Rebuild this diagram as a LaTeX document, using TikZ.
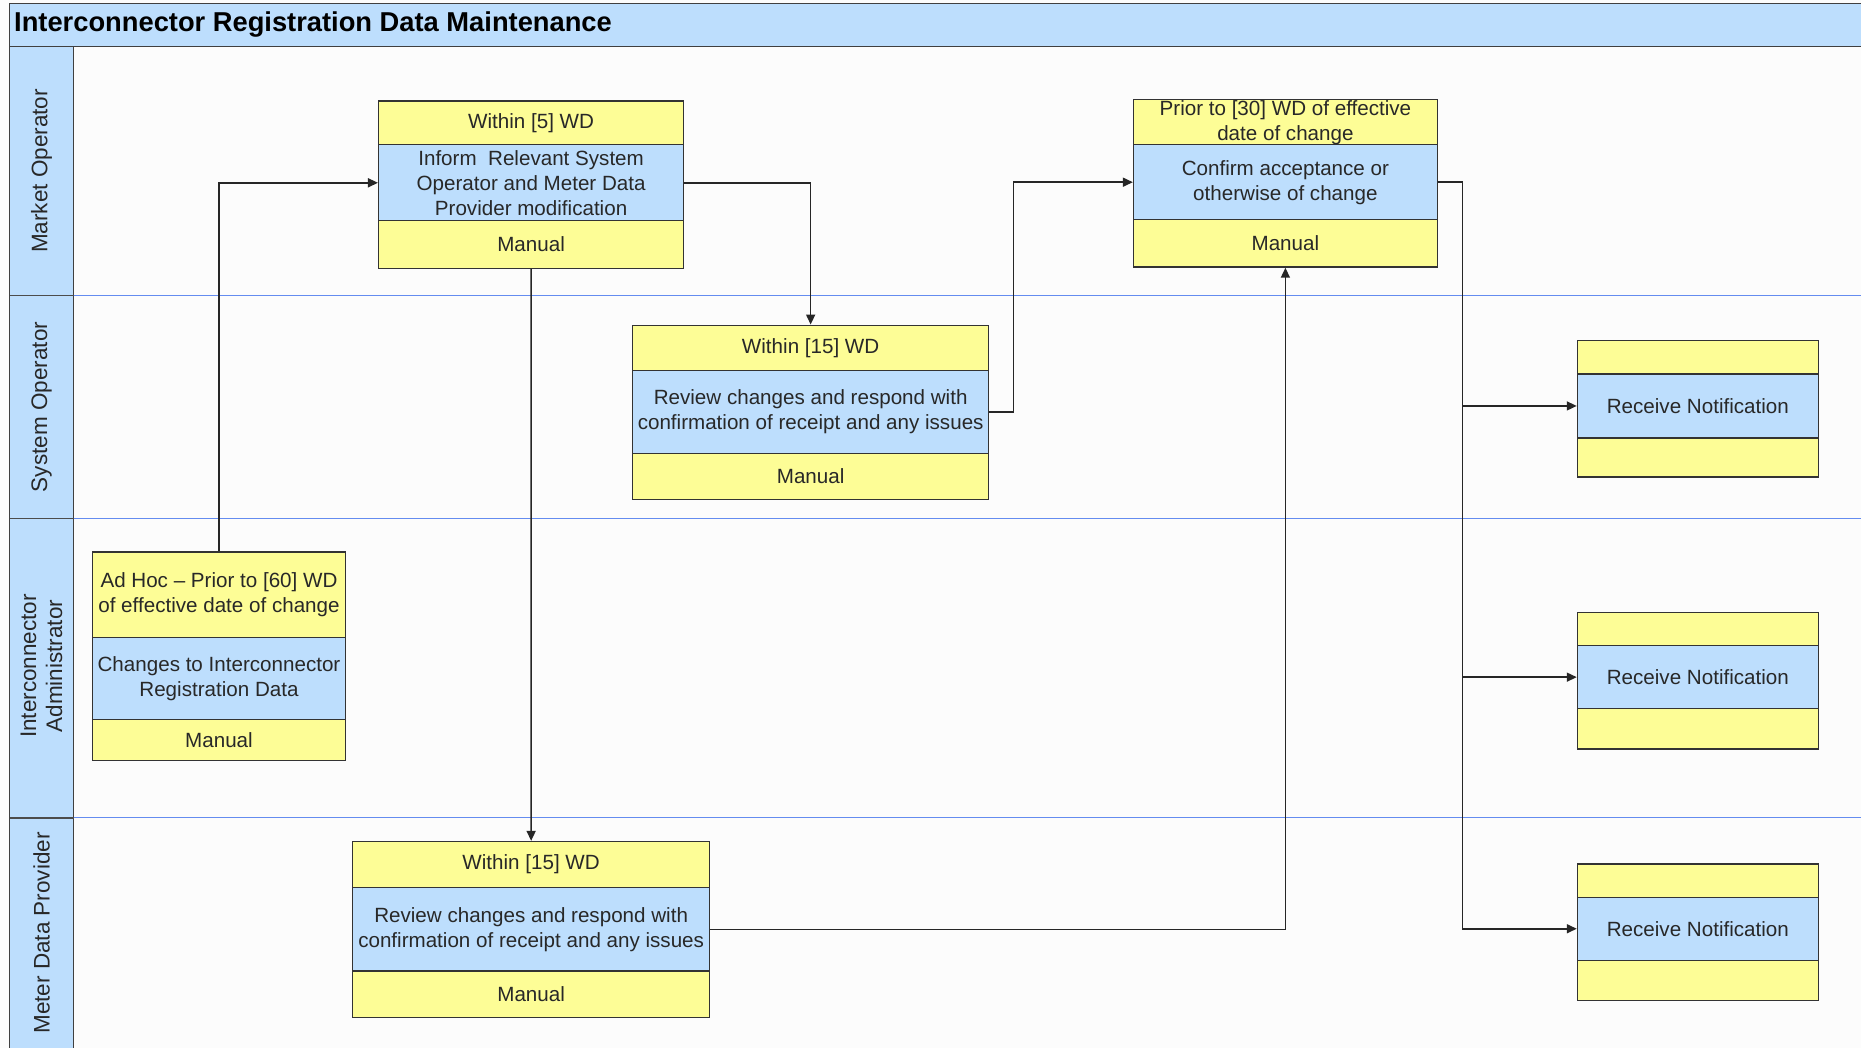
\documentclass[tikz,border=0pt]{standalone}
\usepackage{fontspec}
\setmainfont{Liberation Sans}
\usetikzlibrary{arrows.meta,calc}
\definecolor{ylw}{RGB}{253,253,150}
\definecolor{lblue}{RGB}{189,222,253}
\definecolor{laneline}{RGB}{100,140,240}
\definecolor{txt}{RGB}{40,40,40}
\begin{document}
\begin{tikzpicture}[x=1pt,y=-1pt,
  band/.style={draw=black!80, line width=1.3pt, inner sep=0pt, align=center,
    font=\fontsize{20.6}{25}\selectfont, text=txt},
  yb/.style={band, fill=ylw},
  bb/.style={band, fill=lblue},
  flow/.style={draw=black!85, line width=1.6pt, -{Triangle[length=10pt,width=9pt]}},
  lanelabel/.style={rotate=90, align=center, font=\fontsize{22.5}{26}\selectfont, text=txt, inner sep=0pt},
]
\useasboundingbox (0,0) rectangle (1861,1048);
\fill[white!99!black] (0,0) rectangle (1861,1048);
% title bar
\draw[fill=lblue, draw=black!75, line width=1.5pt] (9.5,3.6) rectangle (1875,46.3);
\node[anchor=west, inner sep=0pt, font=\fontsize{27.3}{30}\selectfont\bfseries] (title) at (14,25) {Interconnector Registration Data Maintenance};
% lane column
\draw[fill=lblue, draw=black!75, line width=1.5pt] (9.5,46.3) rectangle (73.6,1060);
\foreach \yy in {295.5,518.7,817.8}{
  \draw[laneline, line width=1.2pt] (73.6,\yy) -- (1861,\yy);
  \draw[black!70, line width=1.5pt] (9.5,\yy) -- (73.6,\yy);
}
\node[lanelabel] (l1) at (41.5,171) {Market Operator};
\node[lanelabel] (l2) at (41.5,407) {System Operator};
\node[lanelabel] (l3) at (41.5,666) {Interconnector\\Administrator};
\node[lanelabel] (l4) at (41.5,933) {Meter Data Provider};

% Box A
\node[yb, minimum width=305pt, minimum height=43.9pt] (At) at (531.1,122.85) {Within [5] WD};
\node[bb, minimum width=305pt, minimum height=76pt] (Am) at (531.1,182.8) {Inform\ \ Relevant System\\Operator and Meter Data\\Provider modification};
\node[yb, minimum width=305pt, minimum height=47.4pt] (Ab) at (531.1,244.5) {Manual};
% Box B
\node[yb, minimum width=356.1pt, minimum height=45.1pt] (Bt) at (810.65,347.75) {Within [15] WD};
\node[bb, minimum width=356.1pt, minimum height=83.1pt] (Bm) at (810.65,411.85) {Review changes and respond with\\confirmation of receipt and any issues};
\node[yb, minimum width=356.1pt, minimum height=46.3pt] (Bb) at (810.65,476.55) {Manual};
% Box C
\node[yb, minimum width=303.8pt, minimum height=45.1pt] (Ct) at (1285.4,122.25) {Prior to [30] WD of effective\\date of change};
\node[bb, minimum width=303.8pt, minimum height=74.8pt] (Cm) at (1285.4,182.2) {Confirm acceptance or\\otherwise of change};
\node[yb, minimum width=303.8pt, minimum height=47.5pt] (Cb) at (1285.4,243.35) {Manual};
% Box D
\node[yb, minimum width=252.8pt, minimum height=85.5pt] (Dt) at (219,594.65) {Ad Hoc -- Prior to [60] WD\\of effective date of change};
\node[bb, minimum width=252.8pt, minimum height=81.9pt] (Dm) at (219,678.35) {Changes to Interconnector\\Registration Data};
\node[yb, minimum width=252.8pt, minimum height=41.5pt] (Db) at (219,740.05) {Manual};
% Box E
\node[yb, minimum width=357.3pt, minimum height=46.3pt] (Et) at (531.15,864.65) {Within [15] WD};
\node[bb, minimum width=357.3pt, minimum height=83.1pt] (Em) at (531.15,929.35) {Review changes and respond with\\confirmation of receipt and any issues};
\node[yb, minimum width=357.3pt, minimum height=46.3pt] (Eb) at (531.15,994.05) {Manual};
% Receive boxes
\node[yb, minimum width=240.9pt, minimum height=33.3pt] (R1t) at (1697.85,357.25) {};
\node[bb, minimum width=240.9pt, minimum height=64.1pt] (R1m) at (1697.85,405.95) {Receive Notification};
\node[yb, minimum width=240.9pt, minimum height=39.1pt] (R1b) at (1697.85,457.55) {};
\node[yb, minimum width=240.9pt, minimum height=33.3pt] (R2t) at (1697.85,629.05) {};
\node[bb, minimum width=240.9pt, minimum height=62.9pt] (R2m) at (1697.85,677.15) {Receive Notification};
\node[yb, minimum width=240.9pt, minimum height=40.3pt] (R2b) at (1697.85,728.75) {};
\node[yb, minimum width=240.9pt, minimum height=33.2pt] (R3t) at (1697.85,880.7) {};
\node[bb, minimum width=240.9pt, minimum height=62.9pt] (R3m) at (1697.85,928.75) {Receive Notification};
\node[yb, minimum width=240.9pt, minimum height=40.4pt] (R3b) at (1697.85,980.4) {};

% connectors
\coordinate (busB) at (1013.6,0);
\coordinate (busC) at (1462.3,0);
\draw[flow] (Dt.north) -- (Dt.north |- Am.west) -- (Am.west);
\draw[flow] (Am.east) -| (Bt.north);
\draw[flow] (Ab.south) -- (Et.north);
\draw[flow] (Bm.east) -- (Bm.east -| busB) |- (Cm.west);
\draw[flow] (Em.east) -| (Cb.south);
\draw[flow] (Cm.east) -- (Cm.east -| busC) |- (R1m.west);
\draw[flow] (Cm.east) -- (Cm.east -| busC) |- (R2m.west);
\draw[flow] (Cm.east) -- (Cm.east -| busC) |- (R3m.west);
\end{tikzpicture}
\end{document}
